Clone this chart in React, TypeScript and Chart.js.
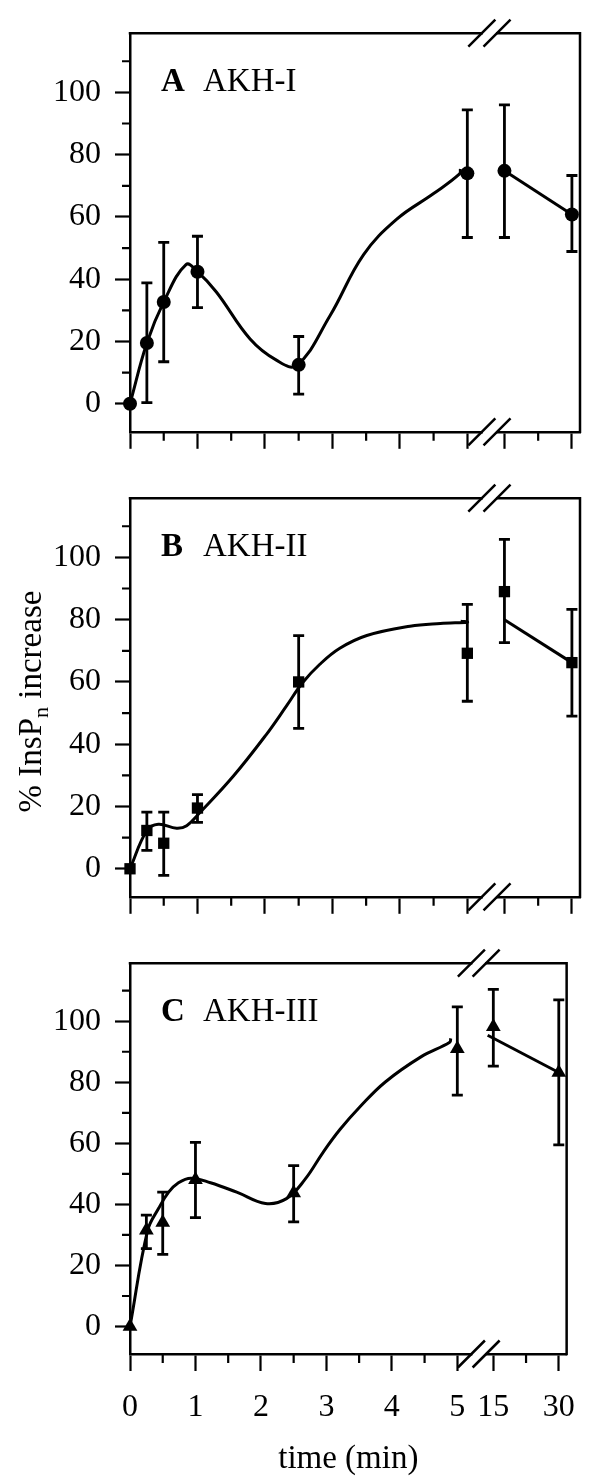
import React, { useEffect, useRef } from 'react';
import { Chart, registerables } from 'chart.js';

Chart.register(...registerables);

// ---- data ----
const times = [0, 0.25, 0.5, 1, 2.5, 5, 15, 30];

const akh1Mean = [0, 19.5, 32.7, 42.4, 12.5, 74.0, 74.8, 60.8];
const akh1Low = [0, 0.4, 13.5, 30.9, 3.1, 53.4, 53.4, 48.9];
const akh1High = [0, 38.8, 51.8, 53.8, 21.6, 94.4, 96.0, 73.3];

const akh2Mean = [0, 12.3, 8.2, 19.5, 60.0, 69.2, 89.0, 66.2];
const akh2Low = [0, 5.9, -2.1, 14.9, 45.1, 53.8, 72.6, 49.0];
const akh2High = [0, 18.2, 18.2, 23.8, 74.9, 84.9, 105.8, 83.3];

const akh3Mean = [0, 31.5, 34.1, 48.1, 43.7, 91.0, 98.2, 83.2];
const akh3Low = [0, 25.5, 23.6, 35.7, 34.3, 75.8, 85.3, 59.5];
const akh3High = [0, 36.5, 44.0, 60.3, 52.7, 104.7, 110.4, 107.0];

// fitted curves
const akh1CurveT = [0, 0.25, 0.5, 0.83, 1.0, 1.28, 1.78, 2.17, 2.47, 2.96, 3.46, 3.95, 4.5, 5.02, 5.21];
const akh1CurveV = [0, 19.5, 32.7, 44.7, 42.4, 35.9, 20.8, 14.0, 12.3, 28.1, 47.8, 59.2, 67.5, 73.8, 75.4];
const akh1TailT = [15, 30];
const akh1TailV = [74.8, 60.8];

const akh2CurveT = [0, 0.25, 0.42, 0.69, 0.84, 1.03, 1.53, 2.02, 2.32, 2.56, 2.81, 3.11, 3.51, 4.15, 4.6, 5.0, 5.26];
const akh2CurveV = [0, 12.3, 14.3, 13.0, 13.8, 17.9, 29.7, 43.1, 52.3, 59.8, 65.6, 70.8, 74.9, 77.9, 78.8, 79.2, 79.5];
const akh2TailT = [15, 30];
const akh2TailV = [80.0, 66.2];

const akh3CurveT = [0, 0.27, 0.44, 0.59, 0.74, 0.93, 1.23, 1.63, 2.07, 2.39, 2.67, 2.96, 3.21, 3.51, 3.9, 4.45, 5.02, 5.24];
const akh3CurveV = [0, 31.5, 38.8, 44.0, 47.1, 48.6, 47.1, 44.0, 40.3, 41.9, 48.1, 57.4, 64.6, 71.9, 80.1, 88.4, 93.1, 94.4];
const akh3TailT = [13.7, 30];
const akh3TailV = [95.4, 83.2];

// axes
const xTickTimes = [0, 1, 2, 3, 4, 5, 15, 30];
const xTickLabels = ['0', '1', '2', '3', '4', '5', '15', '30'];
const xMinorTimes = [0.5, 1.5, 2.5, 3.5, 4.5, 22.5];
const yMajor = [0, 20, 40, 60, 80, 100];
const yMinor = [10, 30, 50, 70, 90, 110];

// broken time axis: linear up to 5 min, then 15..30 compressed
const breakMap = (t: number) => (t <= 5 ? t : 5.55 + (t - 15) / 15);

const FAMILY = "'Liberation Serif', 'Times New Roman', serif";

type PanelProps = {
  top: number;
  height: number;
  padTop: number;
  letter: string;
  name: string;
  mean: number[];
  low: number[];
  high: number[];
  curveT: number[];
  curveV: number[];
  tailT: number[];
  tailV: number[];
  pointStyle: string;
  pointRadius: number;
  showXLabels: boolean;
  showYTitle: boolean;
};

const AREA_H = 411;

function Panel(p: PanelProps) {
  const ref = useRef<HTMLCanvasElement | null>(null);
  useEffect(() => {
    if (!ref.current) return;
    const xh = p.height - p.padTop - AREA_H;
    const plugin = {
      id: 'frame' + p.letter,
      afterDatasetsDraw(chart: any) {
        const { ctx, scales } = chart;
        const x = scales.x, y = scales.y;
        ctx.save();
        ctx.strokeStyle = '#000';
        ctx.lineWidth = 2.8;
        for (let i = 0; i < times.length; i++) {
          if (p.high[i] <= p.low[i]) continue;
          const px = x.getPixelForValue(breakMap(times[i]));
          const yh = y.getPixelForValue(p.high[i]);
          const yl = y.getPixelForValue(p.low[i]);
          ctx.beginPath();
          ctx.moveTo(px, yh);
          ctx.lineTo(px, yl);
          ctx.moveTo(px - 5.5, yh);
          ctx.lineTo(px + 5.5, yh);
          ctx.moveTo(px - 5.5, yl);
          ctx.lineTo(px + 5.5, yl);
          ctx.stroke();
        }
        ctx.restore();
      },
      afterDraw(chart: any) {
        const { ctx, chartArea: a, scales } = chart;
        const x = scales.x, y = scales.y;
        ctx.save();
        ctx.strokeStyle = '#000';
        ctx.lineWidth = 2.5;
        ctx.beginPath();
        ctx.moveTo(a.left - 1.25, a.top);
        ctx.lineTo(a.right, a.top);
        ctx.lineTo(a.right, a.bottom + 1.25);
        ctx.stroke();
        // minor ticks
        ctx.lineWidth = 2.2;
        ctx.beginPath();
        for (const t of xMinorTimes) {
          const px = x.getPixelForValue(breakMap(t));
          ctx.moveTo(px, a.bottom);
          ctx.lineTo(px, a.bottom + 9);
        }
        for (const v of yMinor) {
          const py = y.getPixelForValue(v);
          ctx.moveTo(a.left - 8, py);
          ctx.lineTo(a.left, py);
        }
        ctx.stroke();
        // axis breaks
        const b1 = x.getPixelForValue(5.215);
        const b2 = x.getPixelForValue(5.44);
        for (const yy of [a.top, a.bottom]) {
          ctx.fillStyle = '#fff';
          ctx.fillRect(b1 + 1, yy - 2.5, b2 - b1 - 2, 5);
          ctx.lineWidth = 2.5;
          ctx.beginPath();
          for (const cx of [b1, b2]) {
            ctx.moveTo(cx - 13.5, yy + 13.5);
            ctx.lineTo(cx + 13.5, yy - 13.5);
          }
          ctx.stroke();
        }
        // panel label
        ctx.fillStyle = '#000';
        ctx.textBaseline = 'alphabetic';
        ctx.textAlign = 'left';
        ctx.font = `bold 33px ${FAMILY}`;
        ctx.fillText(p.letter, a.left + 31, a.top + 57.5);
        ctx.font = `33px ${FAMILY}`;
        ctx.fillText(p.name, a.left + 73, a.top + 57.5);
        // y title with subscript
        if (p.showYTitle) {
          const main1 = '% InsP';
          const sub = 'n';
          const main2 = ' increase';
          ctx.font = `33px ${FAMILY}`;
          const w1 = ctx.measureText(main1).width;
          const w3 = ctx.measureText(main2).width;
          ctx.font = `22px ${FAMILY}`;
          const w2 = ctx.measureText(sub).width;
          const total = w1 + w2 + w3;
          const cy = (a.top + a.bottom) / 2 + 4;
          ctx.translate(41, cy);
          ctx.rotate(-Math.PI / 2);
          let x0 = -total / 2;
          ctx.font = `33px ${FAMILY}`;
          ctx.fillText(main1, x0, 0);
          x0 += w1;
          ctx.font = `22px ${FAMILY}`;
          ctx.fillText(sub, x0, 7);
          x0 += w2;
          ctx.font = `33px ${FAMILY}`;
          ctx.fillText(main2, x0, 0);
        }
        ctx.restore();
      },
    };

    const tickFont = { family: FAMILY, size: 32 };
    const chart = new Chart(ref.current, {
      type: 'line',
      data: {
        datasets: [
          {
            data: p.curveT.map((t, i) => ({ x: breakMap(t), y: p.curveV[i] })),
            borderColor: '#000',
            borderWidth: 3,
            pointRadius: 0,
            tension: 0.4,
            fill: false,
          },
          {
            data: p.tailT.map((t, i) => ({ x: breakMap(t), y: p.tailV[i] })),
            borderColor: '#000',
            borderWidth: 3,
            pointRadius: 0,
            tension: 0,
            fill: false,
          },
          {
            data: times.map((t, i) => ({ x: breakMap(t), y: p.mean[i] })),
            showLine: false,
            pointStyle: p.pointStyle as any,
            pointRadius: p.pointRadius,
            pointBackgroundColor: '#000',
            pointBorderColor: '#000',
            pointBorderWidth: 0,
            clip: false as any,
          },
        ],
      } as any,
      options: {
        responsive: false,
        animation: false,
        devicePixelRatio: 1,
        layout: { padding: { left: 0, right: 12, top: p.padTop, bottom: 0 } },
        plugins: { legend: { display: false }, tooltip: { enabled: false } },
        scales: {
          x: {
            type: 'linear',
            min: 0,
            max: 6.67,
            afterBuildTicks: (s: any) => {
              s.ticks = xTickTimes.map((t) => ({ value: breakMap(t) }));
            },
            afterFit: (s: any) => {
              s.height = xh;
            },
            ticks: {
              autoSkip: false,
              maxRotation: 0,
              minRotation: 0,
              padding: 17,
              color: '#000',
              font: tickFont,
              callback: (_v: any, i: number) => (p.showXLabels ? xTickLabels[i] : ''),
            },
            grid: {
              drawOnChartArea: false,
              drawTicks: true,
              tickLength: 17,
              tickWidth: 2.2,
              tickColor: '#000',
              color: '#000',
            },
            border: { display: true, color: '#000', width: 2.5 },
            title: {
              display: p.showXLabels,
              text: 'time (min)',
              color: '#000',
              font: { family: FAMILY, size: 33 },
              padding: { top: 0, bottom: -3 },
            },
          },
          y: {
            type: 'linear',
            min: -9,
            max: 119,
            afterBuildTicks: (s: any) => {
              s.ticks = yMajor.map((v) => ({ value: v }));
            },
            afterFit: (s: any) => {
              s.width = 130;
            },
            ticks: {
              padding: 14,
              color: '#000',
              font: tickFont,
              callback: (v: any) => String(v),
            },
            grid: {
              drawOnChartArea: false,
              drawTicks: true,
              tickLength: 15,
              tickWidth: 2.2,
              tickColor: '#000',
              color: '#000',
            },
            border: { display: true, color: '#000', width: 2.5 },
          },
        },
      } as any,
      plugins: [plugin],
    });
    return () => chart.destroy();
  }, []);
  return (
    <canvas
      ref={ref}
      width={592}
      height={p.height}
      style={{ position: 'absolute', left: 0, top: p.top, width: 592, height: p.height, display: 'block' }}
    />
  );
}

export default function App() {
  return (
    <div
      style={{
        position: 'absolute',
        left: 0,
        top: 0,
        width: 592,
        height: 1476,
        overflow: 'hidden',
        background: '#fff',
      }}
    >
      <Panel
        top={0}
        height={465}
        padTop={25}
        letter="A"
        name="AKH-I"
        mean={akh1Mean}
        low={akh1Low}
        high={akh1High}
        curveT={akh1CurveT}
        curveV={akh1CurveV}
        tailT={akh1TailT}
        tailV={akh1TailV}
        pointStyle="circle"
        pointRadius={7}
        showXLabels={false}
        showYTitle={false}
      />
      <Panel
        top={465}
        height={465}
        padTop={25}
        letter="B"
        name="AKH-II"
        mean={akh2Mean}
        low={akh2Low}
        high={akh2High}
        curveT={akh2CurveT}
        curveV={akh2CurveV}
        tailT={akh2TailT}
        tailV={akh2TailV}
        pointStyle="rect"
        pointRadius={8}
        showXLabels={false}
        showYTitle={true}
      />
      <Panel
        top={930}
        height={546}
        padTop={13}
        letter="C"
        name="AKH-III"
        mean={akh3Mean}
        low={akh3Low}
        high={akh3High}
        curveT={akh3CurveT}
        curveV={akh3CurveV}
        tailT={akh3TailT}
        tailV={akh3TailV}
        pointStyle="triangle"
        pointRadius={8.5}
        showXLabels={true}
        showYTitle={false}
      />
    </div>
  );
}
